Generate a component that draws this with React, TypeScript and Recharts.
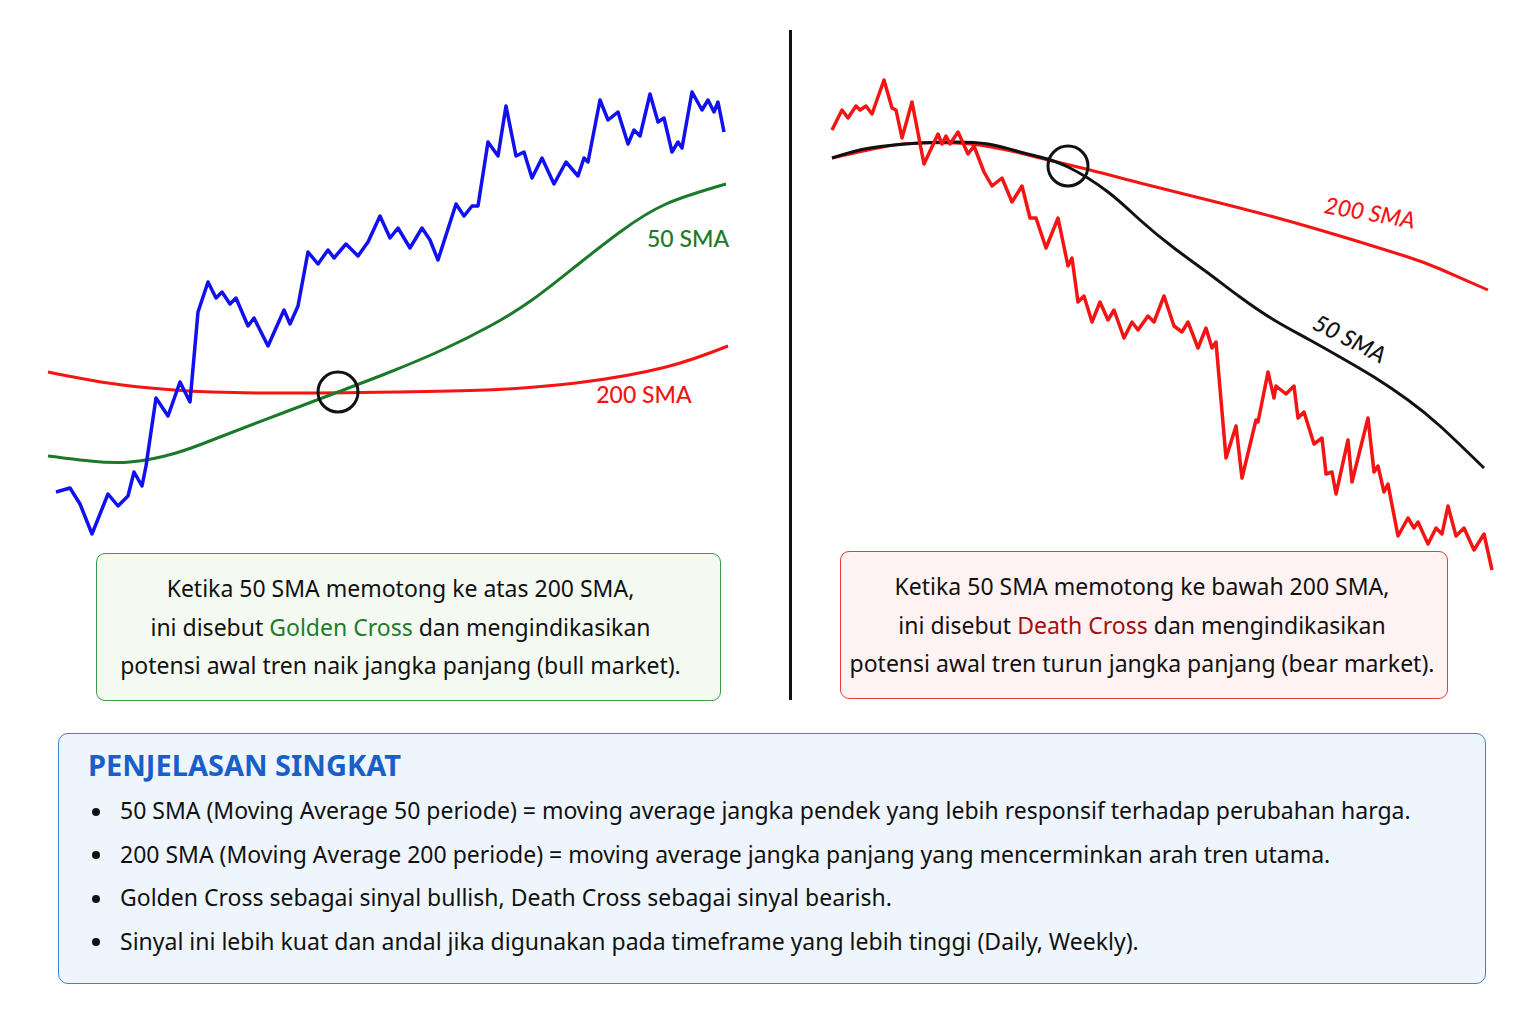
import React from "react";
import { LineChart, Line, XAxis, YAxis, ReferenceDot } from "recharts";

// ---- Golden cross (left) ----
const goldenPriceDays = [8, 15, 20, 26, 34, 39, 44, 47, 51, 53, 58, 64, 70, 75, 79, 84, 88, 91, 95, 98, 104, 107, 114, 122, 125, 129, 134, 139, 144, 147, 153, 159, 164, 170, 175, 179, 185, 191, 195, 199, 208, 212, 216, 219, 224, 229, 233, 238, 242, 246, 251, 257, 263, 269, 272, 274, 280, 284, 289, 294, 297, 300, 305, 309, 312, 316, 319, 321, 326, 331, 334, 337, 339, 342];
const goldenPriceValues = [34, 36, 28, 13, 33, 27, 32, 44, 37, 47, 81, 72, 89, 79, 124, 139, 131, 134, 128, 131, 117, 121, 107, 125, 118, 127, 154, 148, 155, 151, 158, 152, 159, 172, 161, 166, 156, 166, 160, 150, 178, 172, 177, 177, 209, 202, 227, 202, 204, 191, 201, 188, 199, 192, 201, 199, 230, 220, 224, 208, 215, 212, 233, 219, 221, 204, 209, 206, 234, 225, 230, 224, 229, 214];

const golden50Days = [4, 25, 45, 68, 90, 120, 149, 175, 201, 225, 246, 268, 290, 313, 343];
const golden50Values = [52, 49.5, 49, 53.5, 61.5, 73, 84, 94, 105, 117, 130, 147, 164, 178, 188];

const golden200Days = [4, 34, 67, 112, 179, 223, 268, 313, 344];
const golden200Values = [94, 88.5, 85, 83.5, 84, 85, 88.5, 96.5, 107];

// ---- Death cross (right) ----
const deathPriceDays = [6, 11, 14, 18, 20, 23, 26, 32, 36, 38, 41, 46, 52, 59, 61, 63, 65, 69, 74, 77, 82, 86, 91, 96, 101, 105, 108, 113, 119, 124, 126, 129, 132, 136, 140, 144, 147, 152, 156, 159, 164, 167, 172, 177, 181, 184, 189, 193, 196, 198, 203, 208, 211, 218, 219, 224, 227, 228, 233, 237, 239, 242, 247, 251, 253, 256, 258, 264, 266, 274, 277, 279, 282, 284, 289, 294, 297, 299, 304, 308, 311, 314, 318, 322, 327, 332, 336];
const deathPriceValues = [230, 240, 236, 242, 240, 242, 238, 255, 241, 240, 226, 244, 213, 228, 223, 227, 223, 229, 218, 222, 209, 202, 206, 194, 202, 186, 186, 171, 186, 162, 166, 144, 147, 134, 144, 135, 140, 126, 134, 130, 137, 134, 147, 132, 129, 134, 121, 131, 121, 124, 66, 82, 56, 85, 84, 109, 96, 102, 98, 102, 86, 89, 73, 76, 58, 59, 48, 75, 54, 86, 59, 62, 49, 53, 27, 36, 31, 34, 23, 31, 28, 42, 27, 31, 20, 28, 10];

const death50Days = [6, 25, 50, 67, 84, 100, 110, 124, 144, 160, 177, 194, 210, 227, 244, 260, 277, 294, 310, 332];
const death50Values = [216, 221, 223.5, 224, 223, 219, 216.5, 211.5, 199, 185, 171, 158.5, 146.5, 135, 125.5, 116.5, 106.5, 95, 82, 61];

const death200Days = [6, 34, 50, 75, 100, 110, 135, 160, 194, 227, 260, 294, 310, 334];
const death200Values = [216, 222, 223.5, 223, 218.5, 216, 210, 203.5, 195, 186.5, 177, 166.5, 160.5, 150];

const zip = (days: number[], values: number[]) => days.map((d, i) => ({ d, v: values[i] }));

const FONT = "'Noto Sans', 'Open Sans', sans-serif";
const LABEL_FONT = "Lato, 'Noto Sans', sans-serif";

function lineLabel(text: string, color: string, angle: number, italic: boolean) {
  return (props: any) => {
    const vb = props.viewBox || {};
    const cx = (vb.x ?? 0) + (vb.width ?? 0) / 2;
    const cy = (vb.y ?? 0) + (vb.height ?? 0) / 2;
    return (
      <text
        x={cx}
        y={cy}
        fill={color}
        fontSize={23}
        fontWeight={500}
        fontStyle={italic ? "italic" : "normal"}
        fontFamily={LABEL_FONT}
        textAnchor="middle"
        dominantBaseline="central"
        transform={`rotate(${angle} ${cx} ${cy})`}
      >
        {text}
      </text>
    );
  };
}

type Pt = { d: number; v: number };

type CrossChartProps = {
  price: Pt[];
  fast: Pt[];
  slow: Pt[];
  priceColor: string;
  fastColor: string;
  cross: Pt;
  fastLabel: Pt & { angle: number };
  slowLabel: Pt & { angle: number };
  italicLabels: boolean;
  width: number;
  height: number;
  xMax: number;
  yMax: number;
};

function CrossChart(p: CrossChartProps) {
  return (
    <LineChart width={p.width} height={p.height} margin={{ top: 0, right: 0, bottom: 0, left: 0 }}>
      <XAxis dataKey="d" type="number" domain={[0, p.xMax]} allowDataOverflow hide />
      <YAxis type="number" domain={[0, p.yMax]} allowDataOverflow hide />
      <Line data={p.slow} dataKey="v" type="natural" stroke="#f41414" strokeWidth={3} dot={false} activeDot={false} isAnimationActive={false} />
      <Line data={p.fast} dataKey="v" type="natural" stroke={p.fastColor} strokeWidth={3} dot={false} activeDot={false} isAnimationActive={false} />
      <Line data={p.price} dataKey="v" type="linear" stroke={p.priceColor} strokeWidth={3.5} strokeLinejoin="round" dot={false} activeDot={false} isAnimationActive={false} />
      <ReferenceDot x={p.cross.d} y={p.cross.v} r={20} fill="none" stroke="#111" strokeWidth={3} />
      <ReferenceDot x={p.fastLabel.d} y={p.fastLabel.v} r={1} fill="none" stroke="none" label={{ content: lineLabel("50 SMA", p.fastColor, p.fastLabel.angle, p.italicLabels) }} />
      <ReferenceDot x={p.slowLabel.d} y={p.slowLabel.v} r={1} fill="none" stroke="none" label={{ content: lineLabel("200 SMA", "#f41414", p.slowLabel.angle, p.italicLabels) }} />
    </LineChart>
  );
}

const boxText: React.CSSProperties = {
  position: "absolute",
  fontFamily: FONT,
  fontSize: 23,
  color: "#111",
  textAlign: "center",
  lineHeight: "38.5px",
  boxSizing: "border-box",
  paddingTop: 15,
  whiteSpace: "nowrap",
};

const bullets = [
  "50 SMA (Moving Average 50 periode) = moving average jangka pendek yang lebih responsif terhadap perubahan harga.",
  "200 SMA (Moving Average 200 periode) = moving average jangka panjang yang mencerminkan arah tren utama.",
  "Golden Cross sebagai sinyal bullish, Death Cross sebagai sinyal bearish.",
  "Sinyal ini lebih kuat dan andal jika digunakan pada timeframe yang lebih tinggi (Daily, Weekly).",
];

export default function App() {
  return (
    <div style={{ position: "absolute", left: 0, top: 0, width: 1536, height: 1024, background: "#fff", fontFamily: FONT, overflow: "hidden" }}>
      <div style={{ position: "absolute", left: 40, top: 60 }}>
        <CrossChart
          price={zip(goldenPriceDays, goldenPriceValues)}
          fast={zip(golden50Days, golden50Values)}
          slow={zip(golden200Days, golden200Values)}
          priceColor="#1010f0"
          fastColor="#1a7a2a"
          cross={{ d: 149, v: 84 }}
          fastLabel={{ d: 324, v: 161, angle: 0 }}
          slowLabel={{ d: 302, v: 83, angle: 0 }}
          italicLabels={false}
          width={700}
          height={500}
          xMax={350}
          yMax={250}
        />
      </div>

      <div style={{ position: "absolute", left: 789, top: 30, width: 3, height: 670, background: "#111" }} />

      <div style={{ position: "absolute", left: 820, top: 60 }}>
        <CrossChart
          price={zip(deathPriceDays, deathPriceValues)}
          fast={zip(death50Days, death50Values)}
          slow={zip(death200Days, death200Values)}
          priceColor="#f41414"
          fastColor="#111111"
          cross={{ d: 124, v: 212 }}
          fastLabel={{ d: 265, v: 126, angle: 27 }}
          slowLabel={{ d: 275, v: 189, angle: 10 }}
          italicLabels={true}
          width={690}
          height={530}
          xMax={345}
          yMax={265}
        />
      </div>

      <div style={{ ...boxText, left: 96, top: 553, width: 625, height: 148, paddingRight: 16, border: "1.5px solid #3d9a48", borderRadius: 9, background: "#f4faf2" }}>
        <div>Ketika 50 SMA memotong ke atas 200 SMA,</div>
        <div>
          ini disebut <span style={{ color: "#1f7a2c" }}>Golden Cross</span> dan mengindikasikan
        </div>
        <div>potensi awal tren naik jangka panjang (bull market).</div>
      </div>

      <div style={{ ...boxText, left: 840, top: 551, width: 608, height: 148, paddingRight: 4, border: "1.5px solid #f03a3a", borderRadius: 9, background: "#fff2f2" }}>
        <div>Ketika 50 SMA memotong ke bawah 200 SMA,</div>
        <div>
          ini disebut <span style={{ color: "#a30f0f" }}>Death Cross</span> dan mengindikasikan
        </div>
        <div>potensi awal tren turun jangka panjang (bear market).</div>
      </div>

      <div style={{ position: "absolute", left: 58, top: 733, width: 1428, height: 251, boxSizing: "border-box", border: "1.5px solid #3c7fd8", borderRadius: 10, background: "#eef5fd" }}>
        <div style={{ position: "absolute", left: 29, top: 11, fontSize: 29, fontWeight: 700, color: "#1a5fc8", fontFamily: FONT, lineHeight: "40px" }}>PENJELASAN SINGKAT</div>
        {bullets.map((t, i) => (
          <div key={i} style={{ position: "absolute", left: 33, top: 59 + i * 43.5, fontSize: 23, color: "#111", lineHeight: "34px", whiteSpace: "nowrap", fontFamily: FONT }}>
            <span style={{ display: "inline-block", width: 8, height: 8, borderRadius: "50%", background: "#111", marginRight: 20, verticalAlign: "middle", position: "relative", top: -1 }} />
            {t}
          </div>
        ))}
      </div>
    </div>
  );
}
